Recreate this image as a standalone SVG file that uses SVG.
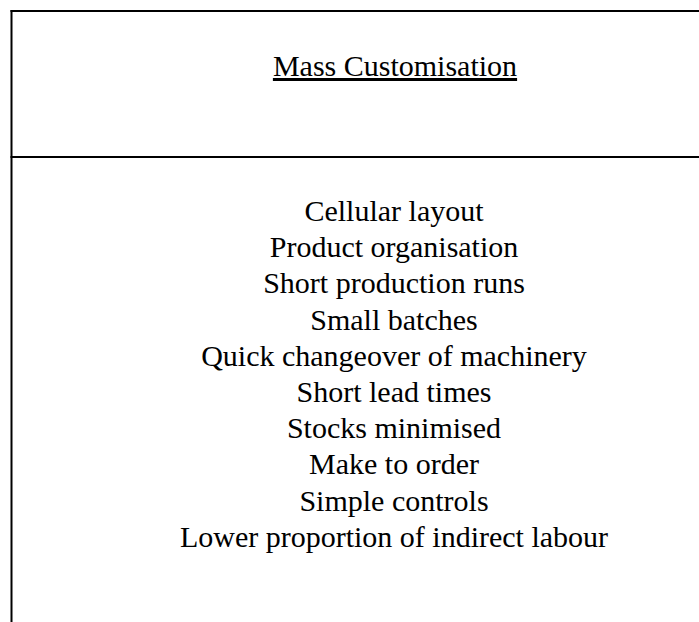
<svg xmlns="http://www.w3.org/2000/svg" width="699" height="622" viewBox="0 0 699 622">
<style>
.ln{stroke:#000;stroke-width:2;fill:none}
.t{font-family:"Liberation Serif","Times New Roman",serif;font-size:30px;fill:#000;text-anchor:middle}
</style>
<rect width="699" height="622" fill="#fff"/>
<g id="frame">
<line class="ln" x1="11.5" y1="10" x2="11.5" y2="622"/>
<line class="ln" x1="10.5" y1="11" x2="699" y2="11"/>
<line class="ln" x1="10.5" y1="157" x2="699" y2="157"/>
</g>
<g id="header">
<text class="t" x="395" y="76" text-decoration="underline">Mass Customisation</text>
</g>
<g id="body">
<text class="t" x="394" y="221">Cellular layout</text>
<text class="t" x="394" y="257.2">Product organisation</text>
<text class="t" x="394" y="293.4">Short production runs</text>
<text class="t" x="394" y="329.6">Small batches</text>
<text class="t" x="394" y="365.8">Quick changeover of machinery</text>
<text class="t" x="394" y="402">Short lead times</text>
<text class="t" x="394" y="438.2">Stocks minimised</text>
<text class="t" x="394" y="474.4">Make to order</text>
<text class="t" x="394" y="510.6">Simple controls</text>
<text class="t" x="394" y="546.8">Lower proportion of indirect labour</text>
</g>
</svg>
